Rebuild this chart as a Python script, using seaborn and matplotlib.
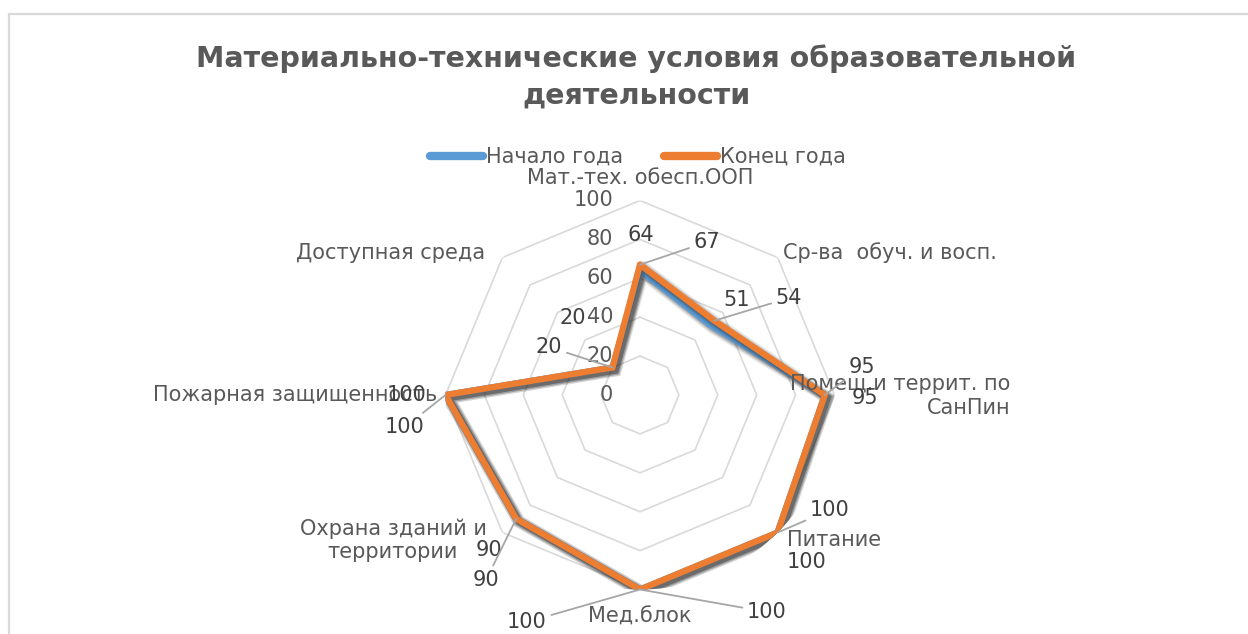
import numpy as np
import pandas as pd
import matplotlib
matplotlib.use("Agg")
import matplotlib.pyplot as plt
import matplotlib.patheffects as pe
from matplotlib.lines import Line2D
import seaborn as sns

# ---------------- data ----------------
categories = [
    "Мат.-тех. обесп.ООП",
    "Ср-ва  обуч. и восп.",
    "Помещ.и террит. по\nСанПин",
    "Питание",
    "Мед.блок",
    "Охрана зданий и\nтерритории",
    "Пожарная защищенность",
    "Доступная среда",
]
start_values = [64, 51, 95, 100, 100, 90, 100, 20]
end_values = [67, 54, 95, 100, 100, 90, 100, 20]
series_names = ["Начало года", "Конец года"]
r_ticks = [0, 20, 40, 60, 80, 100]
title = "Материально-технические условия образовательной\nдеятельности"

# ---------------- style ----------------
sns.set_theme(style="white")
plt.rcParams["font.family"] = ["DejaVu Sans"]
TXT = "#595959"
LBL = "#404040"
GRID = "#D9D9D9"
colors = ["#5B9BD5", "#ED7D31"]
FS = 15

W, H = 1248, 634
fig = plt.figure(figsize=(W / 100, H / 100), dpi=100)
fig.patch.set_facecolor("white")

# chart-area border (top and left edges visible)
fig.add_artist(Line2D([8.5 / W, 1.0], [1 - 13.5 / H] * 2, color=GRID, lw=1.6, transform=fig.transFigure))
fig.add_artist(Line2D([8.5 / W] * 2, [0, 1 - 13.5 / H], color=GRID, lw=1.6, transform=fig.transFigure))

cx, cy, R = 640, 395, 194.5
ax = fig.add_axes([(cx - R) / W, (H - cy - R) / H, 2 * R / W, 2 * R / H], projection="polar")
ax.set_theta_zero_location("N")
ax.set_theta_direction(-1)
ax.set_facecolor("none")

n = len(categories)
theta = np.arange(n) * 2 * np.pi / n
theta_closed = np.append(theta, 2 * np.pi)

# octagonal grid
for r in r_ticks[1:]:
    ax.plot(theta_closed, [r] * (n + 1), color=GRID, lw=1.2, zorder=1)
n_grid = len(ax.lines)

df = pd.DataFrame({
    "theta": np.concatenate([theta_closed, theta_closed]),
    "value": start_values + start_values[:1] + end_values + end_values[:1],
    "series": [series_names[0]] * (n + 1) + [series_names[1]] * (n + 1),
})
sns.lineplot(data=df, x="theta", y="value", hue="series", palette=colors,
             sort=False, estimator=None, lw=4.5, ax=ax, zorder=3)

ax.set_ylim(0, 100)
ax.grid(False)
ax.spines["polar"].set_visible(False)
ax.set_xticks([])
ax.set_yticks([])
ax.set_xlabel("")
ax.set_ylabel("")

for ln in ax.lines[n_grid:]:
    ln.set_solid_joinstyle("miter")
    ln.set_solid_capstyle("round")
    ln.set_path_effects([
        pe.SimpleLineShadow(offset=(2.0, -2.0), shadow_color="#202020", alpha=0.10, linewidth=9.0),
        pe.SimpleLineShadow(offset=(2.0, -2.0), shadow_color="#202020", alpha=0.16, linewidth=7.0),
        pe.SimpleLineShadow(offset=(2.0, -2.0), shadow_color="#202020", alpha=0.22, linewidth=5.0),
        pe.Normal()])

# legend
sns.move_legend(ax, "center", bbox_to_anchor=(638 / W, 1 - 157 / H), bbox_transform=fig.transFigure,
                ncol=2, frameon=False, title=None, fontsize=FS, labelcolor=TXT,
                handlelength=2.5, handletextpad=0.15, columnspacing=2.0)
leg = ax.get_legend()
for h in leg.get_lines():
    h.set_linewidth(6)
    h.set_solid_capstyle("round")
    h.set_path_effects([])

# radial axis labels
for t in r_ticks:
    ax.annotate(str(t), xy=(0, t), xytext=(-27, 0), textcoords="offset pixels",
                ha="right", va="center", color=TXT, fontsize=FS, zorder=2)

# category labels (pixel positions from top-left)
cat_pos = [(640, 178, "center"), (783, 253, "left"), (1010, 396, "right"), (834, 540, "center"),
           (640, 617, "center"), (393, 540, "center"), (437, 395, "right"), (391, 253, "center")]
for i, (px, py, ha) in enumerate(cat_pos):
    ax.annotate(categories[i], xy=(theta[i], 100), xytext=(px, H - py), textcoords="figure pixels",
                ha=ha, va="center", multialignment=ha, color=TXT, fontsize=FS, zorder=5,
                annotation_clip=False)

# data labels
start_pos = [(641, 235, False), (737, 300, False), (865, 398, False), (807, 562, False),
             (527, 622, True), (489, 550, False), (407, 395, False), (573, 318, False)]
end_pos = [(707, 242, True), (789, 298, True), (862, 367, True), (830, 510, True),
           (767, 612, True), (486, 580, True), (405, 427, True), (549, 347, True)]
for vals, poss in [(start_values, start_pos), (end_values, end_pos)]:
    for i, (px, py, lead) in enumerate(poss):
        ap = dict(arrowstyle="-", color="#A6A6A6", lw=1.3, shrinkA=1, shrinkB=0) if lead else None
        ax.annotate(str(vals[i]), xy=(theta[i], vals[i]), xytext=(px, H - py), textcoords="figure pixels",
                    ha="center", va="center", color=LBL, fontsize=FS, arrowprops=ap, zorder=6,
                    annotation_clip=False)

fig.text(636 / W, 1 - 77 / H, title, ha="center", va="center", fontsize=20.5, fontweight="bold",
         color=TXT, linespacing=1.35)

fig.savefig("out.png", dpi=100, facecolor="white")
